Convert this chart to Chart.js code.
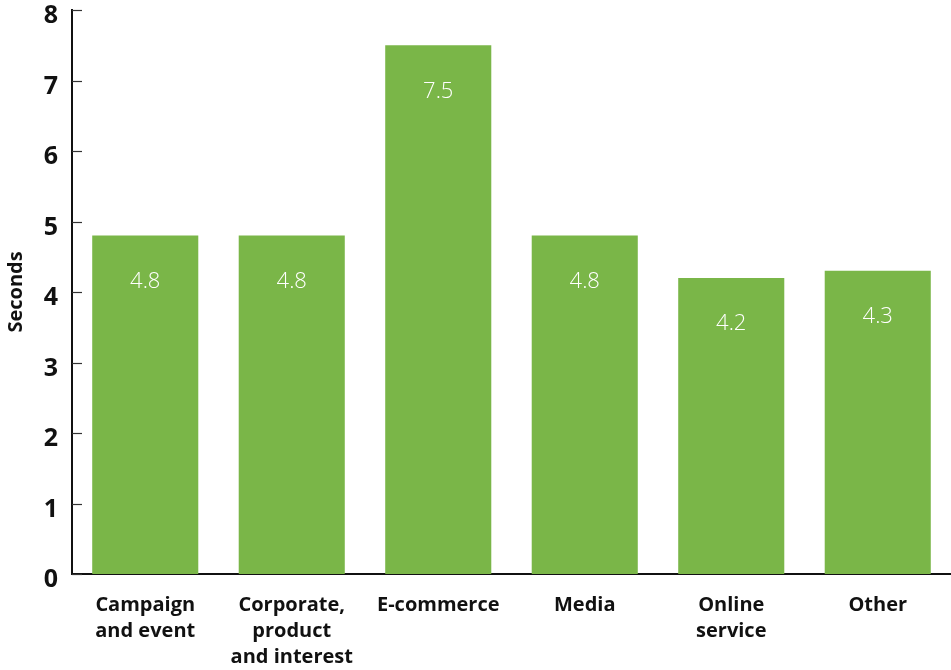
<!DOCTYPE html>
<html>
<head>
<meta charset="utf-8">
<script src="https://cdn.jsdelivr.net/npm/chart.js@4/dist/chart.umd.min.js"></script>
<style>
  html, body { margin: 0; padding: 0; background: #fff; }
  #wrap { width: 951px; height: 670px; position: relative; }
</style>
</head>
<body>
<div id="wrap"><canvas id="c"></canvas></div>
<script>
// Average time per site category, in seconds
const categories = [
  ['Campaign', 'and event'],
  ['Corporate,', 'product', 'and interest'],
  'E-commerce',
  'Media',
  ['Online', 'service'],
  'Other'
];
const seconds = [4.8, 4.8, 7.5, 4.8, 4.2, 4.3];
const yTicks = [0, 1, 2, 3, 4, 5, 6, 7, 8];

const FONT = "'Open Sans', 'Lato', sans-serif";
const BAR_GREEN = '#7ab648';

// Short tick marks pointing into the plot area, plus the value labels inside bars
const decorations = {
  id: 'decorations',
  afterDatasetsDraw(chart) {
    const ctx = chart.ctx;
    const y = chart.scales.y;
    const area = chart.chartArea;
    ctx.save();
    ctx.strokeStyle = '#333';
    ctx.lineWidth = 1.2;
    yTicks.forEach(v => {
      const py = Math.round(y.getPixelForValue(v)) + 0.5;
      ctx.beginPath();
      ctx.moveTo(area.left, py);
      ctx.lineTo(area.left + 10, py);
      ctx.stroke();
    });
    const meta = chart.getDatasetMeta(0);
    ctx.fillStyle = '#ffffff';
    ctx.font = "300 22px " + FONT;
    ctx.textAlign = 'center';
    ctx.textBaseline = 'middle';
    meta.data.forEach((bar, i) => {
      ctx.fillText(String(seconds[i]), bar.x, bar.y + 46);
    });
    ctx.restore();
  }
};

new Chart(document.getElementById('c'), {
  type: 'bar',
  data: {
    labels: categories,
    datasets: [{
      data: seconds,
      backgroundColor: BAR_GREEN,
      borderWidth: 0,
      barPercentage: 0.724,
      categoryPercentage: 1.0
    }]
  },
  options: {
    responsive: true,
    maintainAspectRatio: false,
    animation: false,
    layout: { padding: { top: 10, right: 0, left: 0, bottom: 0 } },
    plugins: {
      legend: { display: false },
      tooltip: { enabled: false }
    },
    scales: {
      x: {
        grid: { display: false, drawTicks: false },
        border: { display: true, color: '#111', width: 2 },
        ticks: {
          color: '#111',
          font: { family: FONT, size: 20, weight: 'bold', lineHeight: 1.3 },
          padding: 18,
          maxRotation: 0,
          autoSkip: false
        },
        afterFit(scale) {
          scale.height = 96;
          scale.paddingLeft = 0;
          scale.paddingRight = 0;
        }
      },
      y: {
        min: 0,
        max: 8,
        afterBuildTicks(scale) { scale.ticks = yTicks.map(v => ({ value: v })); },
        grid: { display: false, drawTicks: false },
        border: { display: true, color: '#111', width: 2 },
        ticks: {
          color: '#111',
          font: { family: FONT, size: 25, weight: 'bold' },
          padding: 14,
          labelOffset: 6
        },
        title: {
          display: true,
          text: 'Seconds',
          color: '#111',
          font: { family: FONT, size: 20, weight: 'bold' },
          padding: { top: 4, bottom: 0 }
        },
        afterFit(scale) {
          scale.width = 72;
          scale.paddingTop = 0;
          scale.paddingBottom = 0;
        }
      }
    }
  },
  plugins: [decorations]
});
</script>
</body>
</html>
